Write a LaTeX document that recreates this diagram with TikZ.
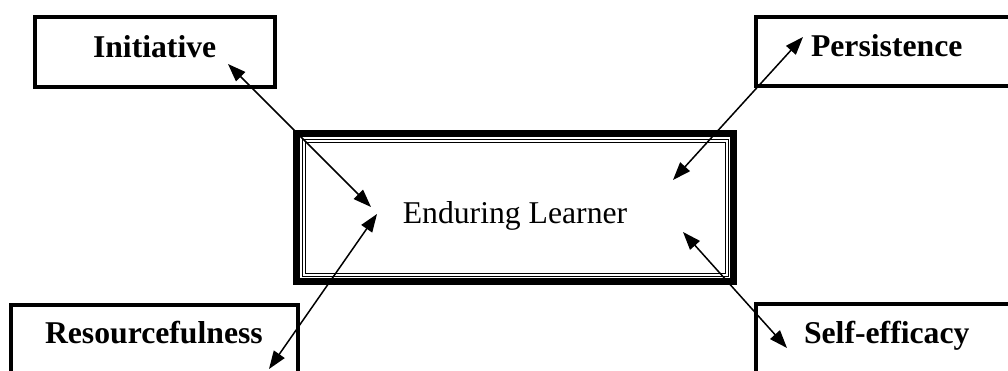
\documentclass[tikz,border=0pt]{standalone}
\usepackage{fontspec}
\setmainfont{Liberation Serif}
\usetikzlibrary{arrows.meta}
\begin{document}
\begin{tikzpicture}[x=1pt,y=-1pt,
  box/.style={draw=black,line width=4pt,rectangle,inner sep=0pt,outer sep=0pt,fill=white},
  lbl/.style={font=\fontsize{31.7}{38}\selectfont\bfseries,inner sep=0pt,outer sep=0pt,anchor=base west},
  arr/.style={line width=1.5pt,{Triangle[length=18pt,width=13pt]}-{Triangle[length=18pt,width=13pt]}}]
\useasboundingbox (0,0) rectangle (1008,371);
\clip (0,0) rectangle (1008,371);
% outer boxes
\node[box,minimum width=240pt,minimum height=70pt] (ini) at (155,52) {};
\node[box,minimum width=274pt,minimum height=69pt] (per) at (893,51.5) {};
\node[box,minimum width=286.5pt,minimum height=95.5pt] (res) at (154.25,352.25) {};
\node[box,minimum width=274.5pt,minimum height=96pt] (sel) at (892.75,352) {};
% labels
\node[lbl] (inil) at (93,58) {Initiative};
\node[lbl] (perl) at (811,57) {Persistence};
\node[lbl] (resl) at (45,343) {Resourcefulness};
\node[lbl] (sell) at (804,343) {Self-efficacy};
% central box
\node[draw=black,line width=7pt,rectangle,inner sep=0pt,outer sep=0pt,
  minimum width=437pt,minimum height=148pt,text height=31pt,text depth=0pt,
  font=\fontsize{31.7}{38}\selectfont] (el) at (515,207.5) {Enduring Learner};
\draw[line width=0.9pt] ([shift={(5.5,5.5)}]el.north west) rectangle ([shift={(-5.5,-5.5)}]el.south east);
\draw[line width=0.9pt] ([shift={(8.5,8.5)}]el.north west) rectangle ([shift={(-8.5,-8.5)}]el.south east);
% arrow ends
\coordinate (ia) at (228,64);
\coordinate (ib) at (371,207);
\coordinate (pa) at (803,37);
\coordinate (pb) at (673,180);
\coordinate (ra) at (377,214);
\coordinate (rb) at (269,369);
\coordinate (sa) at (683,232);
\coordinate (sb) at (787,348);
\draw[arr] (ia) -- (ib);
\draw[arr] (pa) -- (pb);
\draw[arr] (ra) -- (rb);
\draw[arr] (sa) -- (sb);
\end{tikzpicture}
\end{document}
